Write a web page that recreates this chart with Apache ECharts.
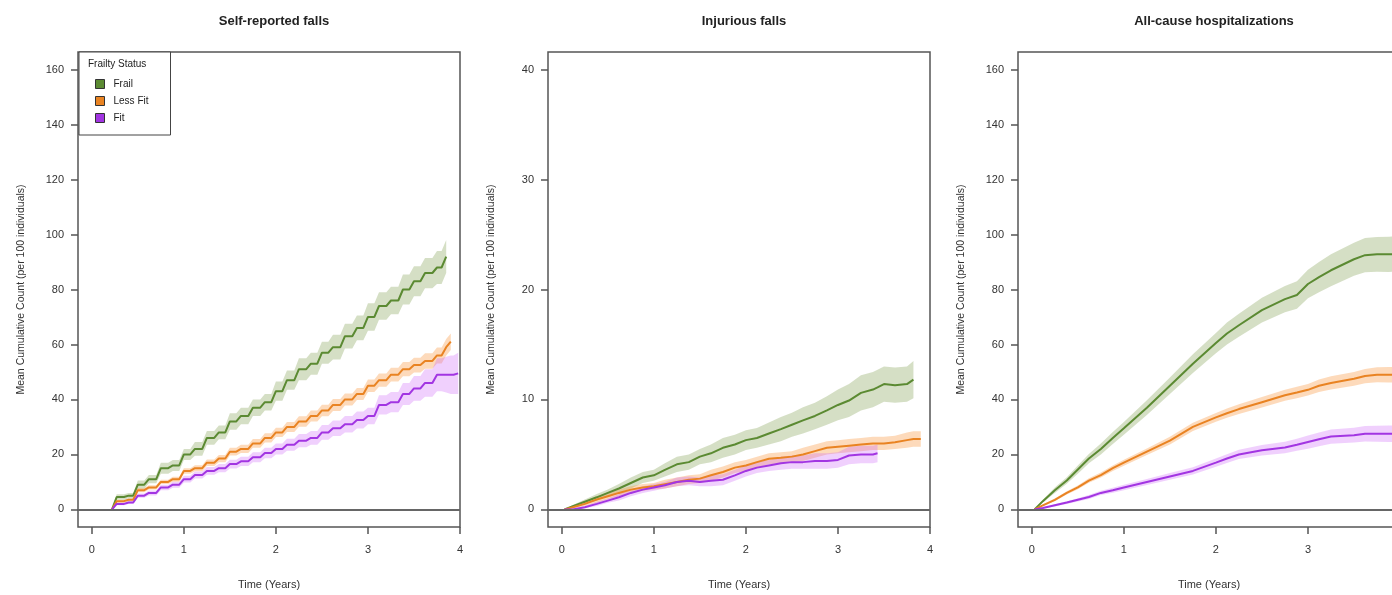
<!DOCTYPE html>
<html>
<head>
<meta charset="utf-8">
<script src="https://cdn.jsdelivr.net/npm/echarts@6/dist/echarts.min.js"></script>
<style>
  html, body { margin: 0; padding: 0; background: #fff; }
  #chart { width: 1392px; height: 595px; }
</style>
</head>
<body>
<div id="chart"></div>
<script>
// groups and colours
const groups = ['Frail', 'Less Fit', 'Fit']
const lineColors = ['#5b8a32', '#e98322', '#a235e2']
const bandColors = ['rgba(125,155,75,0.32)', 'rgba(250,150,60,0.35)', 'rgba(205,100,250,0.30)']
const xTicks = [0, 1, 2, 3, 4]

// Self-reported falls (years, mean cumulative count per 100)
const fallsTime = [0.22, 0.27, 0.4, 0.5, 0.62, 0.75, 0.88, 1.0, 1.12, 1.25, 1.38, 1.5, 1.62, 1.75, 1.88, 2.0, 2.12, 2.25, 2.38, 2.5, 2.62, 2.75, 2.88, 3.0, 3.12, 3.25, 3.38, 3.5, 3.62, 3.75, 3.85, 3.9, 3.98]
const fallsFrail = [0, 4.5, 5, 9, 11, 15, 16, 20, 22, 26, 28, 32, 34, 37, 39, 43, 47, 51, 53, 57, 59, 63, 66, 70, 74, 76, 80, 83, 86, 88, 92, null, null]
const fallsFrailLo = [0, 3.5, 4, 7.5, 9.5, 13, 14, 18, 19.5, 23.5, 25.5, 29, 31, 34, 36, 39.5, 43.5, 47, 49, 53, 54.5, 58.5, 61.5, 65, 69, 71, 74.5, 77.5, 80.5, 82, 86, null, null]
const fallsFrailHi = [0, 5.5, 6, 10.5, 12.5, 17, 18, 22, 24.5, 28.5, 30.5, 35, 37, 40, 42, 46.5, 50.5, 55, 57, 61, 63.5, 67.5, 70.5, 75, 79, 81, 85.5, 88.5, 91.5, 94, 98, null, null]
const fallsLess = [0, 3, 3.5, 7, 8, 10, 11, 14, 15, 17, 18.5, 21, 22, 24, 26, 28, 30, 32, 34, 36, 38, 40, 42, 45, 47, 49, 51, 52.5, 54, 56, 59, 61, null]
const fallsLessLo = [0, 2.5, 3, 6.2, 7.2, 9.2, 10.1, 13, 13.9, 15.8, 17.2, 19.6, 20.5, 22.4, 24.3, 26.3, 28.2, 30.1, 32, 33.9, 35.8, 37.8, 39.8, 42.7, 44.6, 46.5, 48.4, 49.8, 51.2, 53.1, 56, 58, null]
const fallsLessHi = [0, 3.5, 4, 7.8, 8.8, 10.8, 11.9, 15, 16.1, 18.2, 19.8, 22.4, 23.5, 25.6, 27.7, 29.7, 31.8, 33.9, 36, 38.1, 40.2, 42.2, 44.2, 47.3, 49.4, 51.5, 53.6, 55.2, 56.8, 58.9, 62, 64, null]
const fallsFit = [0, 2, 2.5, 5, 6, 8, 9, 11, 12.5, 14, 15, 16.5, 17.5, 19, 20.5, 22, 23.5, 25, 26, 28, 29.5, 31, 32.5, 34, 38, 39, 42, 44, 46, 49, 49, 49, 49.5]
const fallsFitLo = [0, 1.5, 2, 4.2, 5.1, 7, 7.9, 9.8, 11.2, 12.6, 13.5, 14.9, 15.8, 17.2, 18.6, 20, 21.3, 22.6, 23.5, 25.3, 26.7, 28, 29.4, 31, 34.5, 35.3, 38, 39.5, 41, 43, 42.5, 42, 42]
const fallsFitHi = [0, 2.5, 3, 5.8, 6.9, 9, 10.1, 12.2, 13.8, 15.4, 16.5, 18.1, 19.2, 20.8, 22.4, 24, 25.7, 27.4, 28.5, 30.7, 32.3, 34, 35.6, 37, 41.5, 42.7, 46, 48.5, 51, 55, 55.5, 56, 57]

// Injurious falls
const injTime = [0.03, 0.12, 0.25, 0.38, 0.5, 0.62, 0.75, 0.88, 1.0, 1.12, 1.25, 1.38, 1.5, 1.62, 1.75, 1.88, 2.0, 2.12, 2.25, 2.38, 2.5, 2.62, 2.75, 2.88, 3.0, 3.12, 3.25, 3.38, 3.43, 3.5, 3.62, 3.75, 3.82, 3.9]
const injFrail = [0, 0.3, 0.7, 1.1, 1.5, 1.9, 2.4, 2.9, 3.1, 3.6, 4.1, 4.3, 4.8, 5.1, 5.6, 5.9, 6.3, 6.5, 6.9, 7.3, 7.7, 8.1, 8.5, 9.0, 9.5, 9.9, 10.6, 10.9, 11.1, 11.4, 11.3, 11.4, 11.8, null]
const injFrailLo = [0, 0.2, 0.5, 0.8, 1.2, 1.5, 1.9, 2.4, 2.6, 3.0, 3.4, 3.6, 4.1, 4.3, 4.7, 5.0, 5.4, 5.6, 5.9, 6.2, 6.6, 6.9, 7.3, 7.7, 8.1, 8.4, 9.0, 9.3, 9.5, 9.8, 9.7, 9.8, 10.1, null]
const injFrailHi = [0, 0.4, 0.9, 1.4, 1.8, 2.3, 2.9, 3.4, 3.6, 4.2, 4.8, 5.0, 5.5, 5.9, 6.5, 6.8, 7.2, 7.4, 7.9, 8.4, 8.8, 9.3, 9.7, 10.3, 10.9, 11.4, 12.2, 12.5, 12.7, 13.0, 12.9, 13.0, 13.5, null]
const injLess = [0, 0.2, 0.5, 0.9, 1.2, 1.5, 1.8, 2.0, 2.1, 2.3, 2.5, 2.7, 2.8, 3.1, 3.4, 3.8, 4.0, 4.3, 4.6, 4.7, 4.8, 5.0, 5.3, 5.6, 5.7, 5.8, 5.9, 6.0, 6.0, 6.0, 6.1, 6.3, 6.4, 6.4]
const injLessLo = [0, 0.1, 0.3, 0.6, 0.9, 1.2, 1.5, 1.7, 1.8, 1.9, 2.1, 2.3, 2.4, 2.6, 2.9, 3.3, 3.5, 3.8, 4.1, 4.2, 4.3, 4.4, 4.7, 5.0, 5.1, 5.2, 5.3, 5.4, 5.4, 5.4, 5.5, 5.6, 5.7, 5.7]
const injLessHi = [0, 0.3, 0.7, 1.2, 1.5, 1.8, 2.1, 2.3, 2.4, 2.7, 2.9, 3.1, 3.2, 3.6, 3.9, 4.3, 4.5, 4.8, 5.1, 5.2, 5.3, 5.6, 5.9, 6.2, 6.3, 6.4, 6.5, 6.6, 6.6, 6.6, 6.7, 7.0, 7.1, 7.1]
const injFit = [0, 0, 0.2, 0.5, 0.8, 1.1, 1.5, 1.8, 2.0, 2.2, 2.5, 2.6, 2.5, 2.6, 2.7, 3.1, 3.5, 3.8, 4.0, 4.2, 4.3, 4.3, 4.4, 4.4, 4.5, 4.9, 5.0, 5.0, 5.1, null, null, null, null, null]
const injFitLo = [0, 0, 0.1, 0.3, 0.6, 0.8, 1.2, 1.5, 1.7, 1.9, 2.1, 2.2, 2.1, 2.1, 2.2, 2.6, 3.0, 3.3, 3.5, 3.6, 3.7, 3.7, 3.7, 3.7, 3.8, 4.1, 4.2, 4.2, 4.3, null, null, null, null, null]
const injFitHi = [0, 0.1, 0.3, 0.7, 1.0, 1.4, 1.8, 2.1, 2.3, 2.5, 2.9, 3.0, 2.9, 3.1, 3.2, 3.6, 4.0, 4.3, 4.5, 4.8, 4.9, 4.9, 5.1, 5.1, 5.2, 5.7, 5.8, 5.8, 5.9, null, null, null, null, null]

// All-cause hospitalizations
const hospTime = [0.03, 0.12, 0.25, 0.38, 0.5, 0.62, 0.75, 0.88, 1.0, 1.25, 1.5, 1.75, 2.0, 2.12, 2.25, 2.5, 2.75, 2.88, 3.0, 3.12, 3.25, 3.5, 3.62, 3.75, 3.88, 4.0]
const hospFrail = [0, 3, 7, 10.5, 14.5, 18.5, 22, 26, 29.5, 37, 45, 53, 60.5, 64, 67, 72.5, 76.5, 78, 82, 84.5, 87, 91, 92.5, 92.8, 92.8, 93]
const hospFrailLo = [0, 2.5, 6, 9.3, 13, 16.8, 20, 23.8, 27.2, 34.3, 42, 49.6, 56.8, 60, 62.8, 68, 71.7, 73, 76.8, 79, 81.2, 85, 86.3, 86.5, 86.4, 86.5]
const hospFrailHi = [0, 3.5, 8, 11.7, 16, 20.2, 24, 28.2, 31.8, 39.7, 48, 56.4, 64.2, 68, 71.2, 77, 81.3, 83, 87.2, 90, 92.8, 97, 98.7, 99.1, 99.2, 99.5]
const hospLess = [0, 1.5, 3.5, 6, 8, 10.5, 12.5, 15, 17, 21, 25, 30, 33.5, 35, 36.5, 39, 41.5, 42.5, 43.5, 45, 46, 47.5, 48.5, 49, 49, 49]
const hospLessLo = [0, 1.2, 3, 5.4, 7.3, 9.7, 11.6, 14, 15.9, 19.8, 23.6, 28.5, 31.9, 33.3, 34.7, 37.1, 39.5, 40.4, 41.4, 42.7, 43.6, 45, 45.9, 46.3, 46.2, 46.2]
const hospLessHi = [0, 1.8, 4, 6.6, 8.7, 11.3, 13.4, 16, 18.1, 22.2, 26.4, 31.5, 35.1, 36.7, 38.3, 40.9, 43.5, 44.6, 45.6, 47.3, 48.4, 50, 51.1, 51.7, 51.8, 51.8]
const hospFit = [0, 0.5, 1.5, 2.5, 3.5, 4.5, 6, 7, 8, 10, 12, 14, 17, 18.5, 20, 21.5, 22.5, 23.5, 24.5, 25.5, 26.5, 27, 27.5, 27.5, 27.5, 27.5]
const hospFitLo = [0, 0.3, 1.1, 2, 2.9, 3.8, 5.2, 6.1, 7, 8.9, 10.8, 12.7, 15.5, 16.9, 18.3, 19.6, 20.4, 21.3, 22.1, 23, 23.9, 24.3, 24.7, 24.6, 24.5, 24.5]
const hospFitHi = [0, 0.7, 1.9, 3, 4.1, 5.2, 6.8, 7.9, 9, 11.1, 13.2, 15.3, 18.5, 20.1, 21.7, 23.4, 24.6, 25.7, 26.9, 28, 29.1, 29.7, 30.3, 30.4, 30.5, 30.5]

const panels = [
  {
    title: 'Self-reported falls', time: fallsTime, rise: 0.05, yTop: 160, yTicks: [0, 20, 40, 60, 80, 100, 120, 140, 160],
    groups: [[fallsFrail, fallsFrailLo, fallsFrailHi], [fallsLess, fallsLessLo, fallsLessHi], [fallsFit, fallsFitLo, fallsFitHi]],
  },
  {
    title: 'Injurious falls', time: injTime, rise: 0, yTop: 40, yTicks: [0, 10, 20, 30, 40],
    groups: [[injFrail, injFrailLo, injFrailHi], [injLess, injLessLo, injLessHi], [injFit, injFitLo, injFitHi]],
  },
  {
    title: 'All-cause hospitalizations', time: hospTime, rise: 0, yTop: 160, yTicks: [0, 20, 40, 60, 80, 100, 120, 140, 160],
    groups: [[hospFrail, hospFrailLo, hospFrailHi], [hospLess, hospLessLo, hospLessHi], [hospFit, hospFitLo, hospFitHi]],
  },
]

const FONT = 'Liberation Sans, Arial, sans-serif'
const gridLefts = [78, 548, 1018]

// pairs [t, v]; with rise > 0 each value is held until just before the next time (sloped stairs)
function pts(time, vals, rise) {
  const out = []
  time.forEach((t, i) => {
    if (vals[i] == null) return
    out.push([t, vals[i]])
    if (rise > 0 && i + 1 < time.length && vals[i + 1] != null) {
      out.push([time[i + 1] - rise, vals[i]])
    }
  })
  return out
}

// confidence band as one polygon, drawn through the axis scales
function bandSeries(gi, time, lo, hi, color, rise) {
  const low = pts(time, lo, rise)
  const high = pts(time, hi, rise)
  return {
    type: 'custom',
    name: 'band',
    xAxisIndex: gi,
    yAxisIndex: gi,
    silent: true,
    data: low.map((p, i) => [p[0], p[1], high[i][1]]),
    encode: { x: 0, y: [1, 2] },
    renderItem: function (params, api) {
      if (params.dataIndex !== 0) return
      const top = high.map((p) => api.coord(p))
      const bottom = low.map((p) => api.coord(p)).reverse()
      return {
        type: 'polygon',
        shape: { points: top.concat(bottom) },
        style: { fill: color },
      }
    },
  }
}

const grids = [], xAxes = [], yAxes = [], titles = [], series = []

panels.forEach((p, gi) => {
  grids.push({
    left: gridLefts[gi], top: 52, width: 382, height: 475,
    outerBoundsMode: 'none', containLabel: false,
    show: true, borderColor: '#555', borderWidth: 1.5, backgroundColor: 'transparent',
  })
  titles.push({
    text: p.title, left: gridLefts[gi] + 191, top: 10, textAlign: 'center',
    textStyle: { fontFamily: FONT, fontSize: 13, fontWeight: 'bold', color: '#222' },
  })
  xAxes.push({
    type: 'value', gridIndex: gi, min: -0.15, max: 4,
    name: 'Time (Years)', nameLocation: 'middle', nameGap: 52,
    nameTextStyle: { fontFamily: FONT, fontSize: 11, color: '#333' },
    axisLine: { show: false, onZero: false },
    axisTick: { show: true, length: 7, customValues: xTicks, lineStyle: { color: '#555', width: 1.5 } },
    axisLabel: { customValues: xTicks, margin: 17, fontFamily: FONT, fontSize: 11, color: '#333' },
    splitLine: { show: false },
  })
  yAxes.push({
    type: 'value', gridIndex: gi, min: -0.04 * p.yTop, max: 1.04 * p.yTop,
    name: 'Mean Cumulative Count (per 100 individuals)', nameLocation: 'middle', nameGap: 51,
    nameTextStyle: { fontFamily: FONT, fontSize: 10.5, color: '#333' },
    axisLine: { show: false, onZero: false },
    axisTick: { show: true, length: 7, customValues: p.yTicks, lineStyle: { color: '#555', width: 1.5 } },
    axisLabel: { customValues: p.yTicks, margin: 14, fontFamily: FONT, fontSize: 11, color: '#333' },
    splitLine: { show: false },
  })
  p.groups.forEach((g, k) => {
    series.push(bandSeries(gi, p.time, g[1], g[2], bandColors[k], p.rise))
  })
  p.groups.forEach((g, k) => {
    const s = {
      type: 'line', name: groups[k], xAxisIndex: gi, yAxisIndex: gi,
      data: pts(p.time, g[0], p.rise), showSymbol: false, symbol: 'none',
      color: lineColors[k], lineStyle: { width: 2, color: lineColors[k] },
      z: 3,
    }
    if (k === 0) {
      s.markLine = {
        silent: true, symbol: 'none', label: { show: false },
        lineStyle: { color: '#666', width: 2, type: 'solid' },
        data: [{ yAxis: 0 }],
      }
    }
    series.push(s)
  })
})

titles.push({
  text: 'Frailty Status', left: 83, top: 54,
  textStyle: { fontFamily: FONT, fontSize: 10, fontWeight: 'normal', color: '#222' },
})

const chart = echarts.init(document.getElementById('chart'))
chart.setOption({
  animation: false,
  backgroundColor: '#fff',
  title: titles,
  legend: {
    data: groups, orient: 'vertical', left: 79, top: 52,
    padding: [27, 22, 12, 16], itemGap: 7, itemWidth: 9, itemHeight: 9,
    icon: 'rect', backgroundColor: '#fff', borderColor: '#444', borderWidth: 1,
    itemStyle: { borderColor: '#333', borderWidth: 1 },
    textStyle: { fontFamily: FONT, fontSize: 10, color: '#222', padding: [0, 0, 0, 4] },
  },
  grid: grids,
  xAxis: xAxes,
  yAxis: yAxes,
  series: series,
})
</script>
</body>
</html>
